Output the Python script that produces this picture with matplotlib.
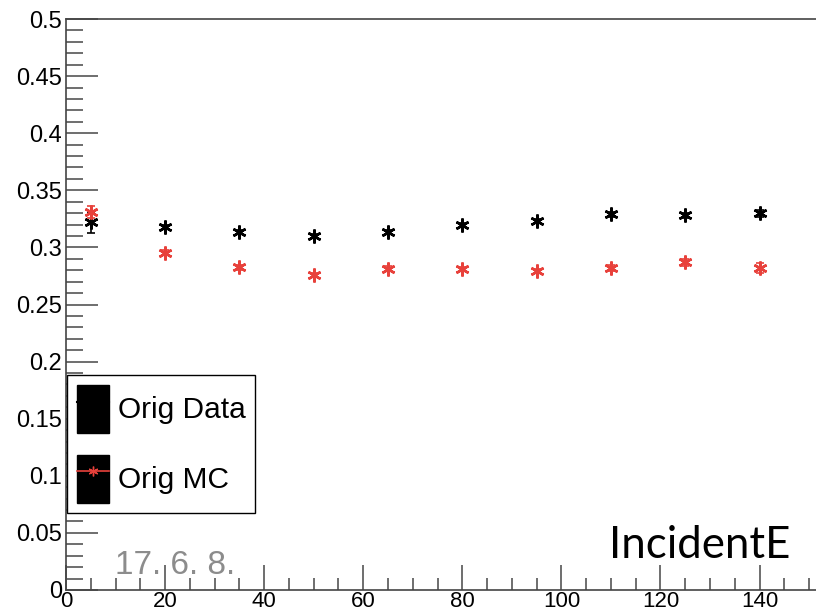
import matplotlib
matplotlib.use("Agg")
import matplotlib.pyplot as plt
from matplotlib.lines import Line2D
from matplotlib.patches import Patch
from matplotlib.ticker import MultipleLocator

# energy points
energy = [5, 20, 35, 50, 65, 80, 95, 110, 125, 140]

data_val = [0.322, 0.318, 0.3135, 0.310, 0.3135, 0.3195, 0.323, 0.329, 0.328, 0.330]
data_err = [0.009, 0.002, 0.002, 0.002, 0.002, 0.002, 0.002, 0.002, 0.002, 0.003]

mc_val = [0.331, 0.2955, 0.2825, 0.276, 0.2815, 0.281, 0.2795, 0.282, 0.287, 0.282]
mc_err = [0.005, 0.002, 0.002, 0.002, 0.002, 0.002, 0.002, 0.003, 0.003, 0.004]

W, H = 816, 613
fig = plt.figure(figsize=(W / 100, H / 100), dpi=100)
ax = fig.add_axes([66 / W, 23 / H, 1 - 66 / W, (590 - 19) / H])

star = (6, 2, 0)
red = "#e8413b"
ax.errorbar(energy, data_val, yerr=data_err, fmt="none", ecolor="black",
            elinewidth=1.2, capsize=3, capthick=1.2)
ax.plot(energy, data_val, linestyle="none", marker=star, markersize=10,
        markeredgewidth=1.8, color="black")
ax.errorbar(energy, mc_val, yerr=mc_err, fmt="none", ecolor=red,
            elinewidth=1.2, capsize=3, capthick=1.2)
ax.plot(energy, mc_val, linestyle="none", marker=star, markersize=10,
        markeredgewidth=1.8, color=red)

ax.set_xlim(0, 151.4)
ax.set_ylim(0, 0.5)
ax.xaxis.set_major_locator(MultipleLocator(20))
ax.xaxis.set_minor_locator(MultipleLocator(5))
ax.yaxis.set_minor_locator(MultipleLocator(0.01))
ax.set_yticks([0, 0.05, 0.1, 0.15, 0.2, 0.25, 0.3, 0.35, 0.4, 0.45, 0.5])
ax.set_yticklabels(["0", "0.05", "0.1", "0.15", "0.2", "0.25", "0.3",
                    "0.35", "0.4", "0.45", "0.5"])
ax.tick_params(which="major", direction="in", length=18, width=1.2,
               labelsize=17, color="#555555")
ax.tick_params(axis="x", which="major", pad=1, labelsize=16)
ax.tick_params(axis="y", which="major", length=23, pad=3)
ax.tick_params(which="minor", direction="in", length=9, width=1.2,
               color="#555555")
ax.tick_params(axis="y", which="minor", length=12)
for lab in ax.get_xticklabels() + ax.get_yticklabels():
    lab.set_family("Liberation Sans")
ax.spines["right"].set_visible(False)
for s in ["left", "bottom", "top"]:
    ax.spines[s].set_linewidth(1.2)
    ax.spines[s].set_color("#444444")

# legend
h_data = (Patch(facecolor="black", edgecolor="black"),
          Line2D([], [], color="black", marker=star, markersize=7))
h_mc = (Patch(facecolor="black", edgecolor="black"),
        Line2D([], [], color=red, lw=1.2, marker=star, markersize=7))
leg = ax.legend([h_data, h_mc], ["Orig Data", "Orig MC"],
                loc="upper left", bbox_to_anchor=(67 / W, 1 - 375 / H),
                bbox_transform=fig.transFigure,
                prop={"family": "Liberation Sans", "size": 21.5},
                frameon=True, fancybox=False, edgecolor="black",
                framealpha=1.0,
                handlelength=1.07, handleheight=2.1, handletextpad=0.3,
                labelspacing=0.73, borderpad=0.33, borderaxespad=0)
leg.get_frame().set_linewidth(1.0)

fig.text(790 / W, 1 - 545 / H, "IncidentE", ha="right", va="center",
         fontsize=31.5, family="Lato")
fig.text(115 / W, 1 - 566 / H, "17. 6. 8.", ha="left", va="center",
         fontsize=24, family="Liberation Sans", color="#8c8c8c")

fig.savefig("out.png", dpi=100)
